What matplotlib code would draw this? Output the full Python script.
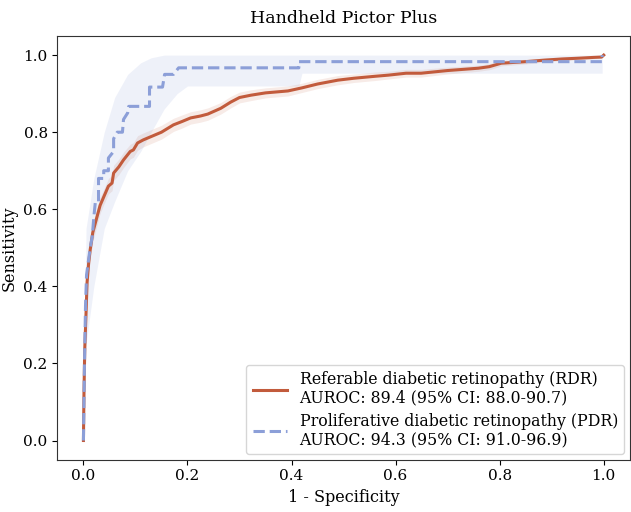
import numpy as np
import matplotlib.pyplot as plt

plt.rcParams['font.family'] = 'DejaVu Serif'

# RDR curve
rdr_fpr = [0.0, 0.001, 0.0025, 0.005, 0.007, 0.010, 0.013, 0.018, 0.026, 0.032, 0.039,
           0.048, 0.055, 0.058, 0.068, 0.077, 0.090, 0.096, 0.104, 0.115, 0.129, 0.150,
           0.173, 0.190, 0.206, 0.225, 0.239, 0.264, 0.283, 0.300, 0.322, 0.350,
           0.393, 0.420, 0.450, 0.489, 0.520, 0.560, 0.586, 0.620, 0.649, 0.700,
           0.759, 0.780, 0.803, 0.850, 0.886, 0.920, 0.952, 0.980, 0.996, 1.0]
rdr_tpr = [0.0, 0.12, 0.236, 0.33, 0.41, 0.46, 0.495, 0.54, 0.58, 0.61, 0.632,
           0.66, 0.668, 0.694, 0.71, 0.728, 0.75, 0.754, 0.772, 0.780, 0.788, 0.800,
           0.819, 0.828, 0.837, 0.842, 0.847, 0.862, 0.878, 0.890, 0.896, 0.902,
           0.907, 0.915, 0.925, 0.935, 0.940, 0.945, 0.948, 0.953, 0.953, 0.960,
           0.966, 0.970, 0.979, 0.983, 0.987, 0.990, 0.992, 0.994, 0.995, 1.0]
rdr_band = [0.0, 0.01, 0.02, 0.025, 0.025, 0.025, 0.025, 0.024, 0.022, 0.021, 0.02,
            0.02, 0.02, 0.02, 0.02, 0.02, 0.019, 0.019, 0.019, 0.018, 0.018, 0.018,
            0.017, 0.017, 0.016, 0.016, 0.016, 0.015, 0.015, 0.014, 0.014, 0.013,
            0.013, 0.012, 0.012, 0.012, 0.011, 0.011, 0.010, 0.010, 0.010, 0.009,
            0.008, 0.008, 0.007, 0.006, 0.005, 0.004, 0.004, 0.003, 0.003, 0.0]

# PDR curve
pdr_fpr = [0.0, 0.002, 0.004, 0.006, 0.010, 0.013, 0.017, 0.020, 0.023, 0.029, 0.029,
           0.039, 0.039, 0.048, 0.048, 0.058, 0.058, 0.065, 0.075, 0.077, 0.085, 0.087,
           0.127, 0.127, 0.152, 0.156, 0.173, 0.183, 0.414, 0.414, 0.997, 0.997]
pdr_tpr = [0.0, 0.20, 0.35, 0.43, 0.47, 0.50, 0.53, 0.58, 0.62, 0.62, 0.68,
           0.68, 0.70, 0.70, 0.733, 0.75, 0.783, 0.80, 0.80, 0.833, 0.85, 0.867,
           0.867, 0.917, 0.917, 0.95, 0.95, 0.967, 0.967, 0.983, 0.983, 1.0]

# PDR confidence band
pdr_band_x = [0.0, 0.005, 0.02, 0.04, 0.06, 0.085, 0.11, 0.13, 0.155, 0.18, 0.20, 0.414, 0.42, 0.997]
pdr_band_lo = [0.0, 0.25, 0.40, 0.55, 0.62, 0.70, 0.75, 0.80, 0.86, 0.90, 0.92, 0.92, 0.953, 0.953]
pdr_band_hi = [0.0, 0.55, 0.68, 0.80, 0.89, 0.95, 0.98, 0.993, 1.0, 1.0, 1.0, 1.0, 1.0, 1.0]

rdr_label = "Referable diabetic retinopathy (RDR)\nAUROC: 89.4 (95% CI: 88.0-90.7)"
pdr_label = "Proliferative diabetic retinopathy (PDR)\nAUROC: 94.3 (95% CI: 91.0-96.9)"

c_rdr = "#c25b3c"
c_pdr = "#8c9fd8"

fig = plt.figure(figsize=(6.31, 5.12), dpi=100)
ax = fig.add_axes([0.091, 0.102, 0.907, 0.828])

rf = np.array(rdr_fpr)
rt = np.array(rdr_tpr)
rb = np.array(rdr_band)
ax.fill_between(rf, rt - rb, np.minimum(rt + rb, 1), color=c_rdr, alpha=0.12, lw=0)
ax.fill_between(pdr_band_x, pdr_band_lo, pdr_band_hi, color=c_pdr, alpha=0.14, lw=0)

ax.plot(rdr_fpr, rdr_tpr, color=c_rdr, lw=2.2, label=rdr_label)
ax.plot(pdr_fpr, pdr_tpr, color=c_pdr, lw=2.2, ls="--", label=pdr_label)

ax.set_title("Handheld Pictor Plus", fontsize=12.5, pad=9)
ax.set_xlabel("1 - Specificity", fontsize=11.5)
ax.set_ylabel("Sensitivity", fontsize=11.5)
ax.tick_params(labelsize=11)
for s in ax.spines.values():
    s.set_color("#333333")
leg = ax.legend(loc="lower right", fontsize=11.3, handlelength=2.2,
                labelspacing=0.4, borderaxespad=0.35)
for t in leg.get_texts():
    t.set_linespacing(1.1)

fig.savefig("out.png", dpi=100)
